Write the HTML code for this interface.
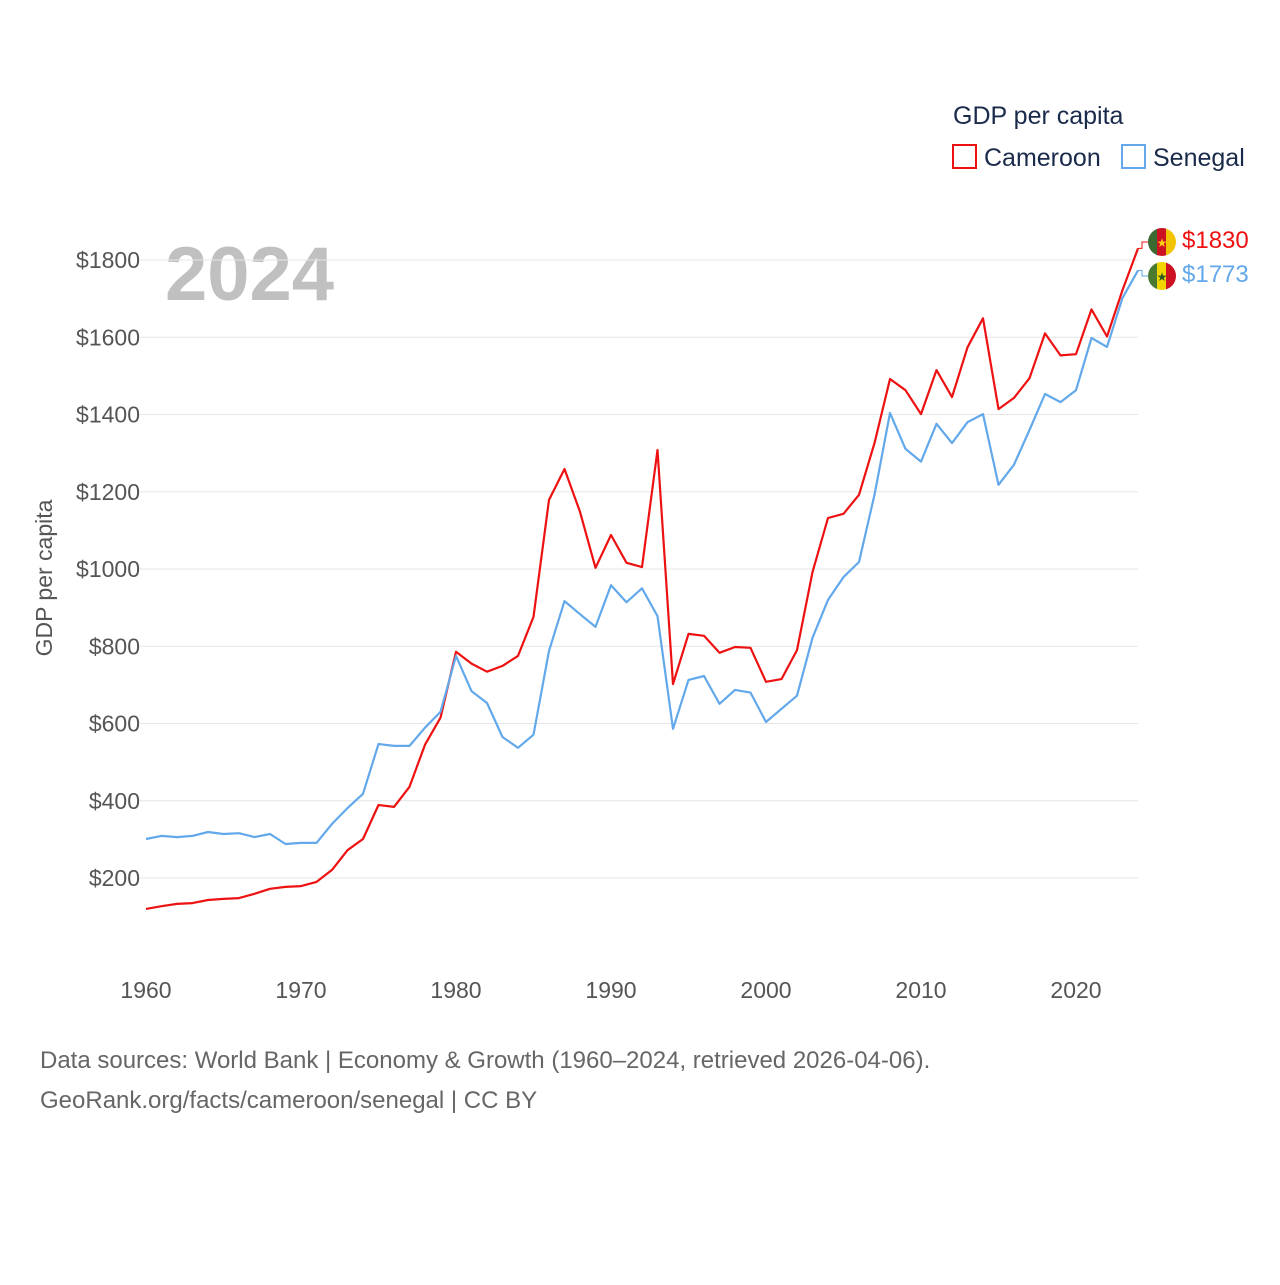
<!DOCTYPE html>
<html><head><meta charset="utf-8"><style>
body{margin:0;background:#fff;font-family:"Liberation Sans",sans-serif}
svg text{font-family:"Liberation Sans",sans-serif}
</style></head><body>
<svg id="chart" width="1280" height="1280" xmlns="http://www.w3.org/2000/svg">
<defs>
<clipPath id="c1"><circle cx="1162" cy="242" r="14"/></clipPath>
<clipPath id="c2"><circle cx="1162" cy="276" r="14"/></clipPath>
</defs>
<text x="953" y="124" font-size="25" fill="#1a2a4a">GDP per capita</text>
<g><rect x="953" y="145" width="23" height="23" fill="none" stroke="#ee1111" stroke-width="2"/><text x="984" y="166" font-size="25" fill="#1a2a4a">Cameroon</text></g>
<g><rect x="1122" y="145" width="23" height="23" fill="none" stroke="#62a8ea" stroke-width="2"/><text x="1153" y="166" font-size="25" fill="#1a2a4a">Senegal</text></g>
<text x="165" y="300" font-size="76" font-weight="bold" fill="#c0c0c0">2024</text>
<text transform="translate(52,578) rotate(-90)" text-anchor="middle" font-size="23" fill="#555">GDP per capita</text>
<g id="grid"></g><g id="series"></g>
<g>
<g clip-path="url(#c1)"><rect x="1148" y="228" width="10" height="28" fill="#3a6a30"/><rect x="1157" y="228" width="10" height="28" fill="#cc1122"/><rect x="1166" y="228" width="10" height="28" fill="#f2c400"/></g>
<text x="1162" y="247" text-anchor="middle" font-size="12" fill="#fcd116">★</text>
<text x="1182" y="248" font-size="24" fill="#ee1111">$1830</text></g>
<g>
<g clip-path="url(#c2)"><rect x="1148" y="262" width="10" height="28" fill="#4a7a30"/><rect x="1157" y="262" width="10" height="28" fill="#f2d400"/><rect x="1166" y="262" width="10" height="28" fill="#cc1122"/></g>
<text x="1162" y="281" text-anchor="middle" font-size="12" fill="#2a5a20">★</text>
<text x="1182" y="282" font-size="24" fill="#62a8ea">$1773</text></g>
<text x="40" y="1068" font-size="24" fill="#666">Data sources: World Bank | Economy &amp; Growth (1960–2024, retrieved 2026-04-06).</text>
<text x="40" y="1108" font-size="24" fill="#666">GeoRank.org/facts/cameroon/senegal | CC BY</text>
</svg>
<script>
const years=[];for(let y=1960;y<=2024;y++)years.push(y);
const cameroon=[120,127,133,135,143,146,148,159,172,177,179,190,221,272,301,389,384,436,545,615,786,755,734,749,775,876,1179,1259,1148,1003,1088,1016,1005,1308,702,832,827,783,798,796,708,715,790,992,1132,1143,1192,1326,1492,1463,1401,1515,1445,1574,1649,1414,1443,1494,1610,1553,1556,1672,1602,1722,1830];
const senegal=[301,309,306,309,319,314,316,306,314,288,291,291,340,381,418,547,542,542,589,630,775,684,653,565,537,571,788,917,883,850,958,914,950,878,586,713,723,651,687,680,604,638,672,822,920,979,1018,1192,1404,1311,1278,1376,1326,1380,1401,1218,1270,1360,1453,1432,1463,1598,1575,1702,1773];
const yTicks=[200,400,600,800,1000,1200,1400,1600,1800];
const xTicks=[1960,1970,1980,1990,2000,2010,2020];
const X=y=>146+(y-1960)*15.5, Y=v=>955.25-v*0.38625;
const NS="http://www.w3.org/2000/svg";
const grid=document.getElementById('grid'),ser=document.getElementById('series');
function mk(tag,at,p){const e=document.createElementNS(NS,tag);for(const k in at)e.setAttribute(k,at[k]);p.appendChild(e);return e;}
yTicks.forEach(v=>{
 const l=mk('line',{x1:140,x2:1138,y1:Y(v),y2:Y(v),stroke:'#e6e6e6','stroke-width':1},grid);
 
 
 const t=mk('text',{x:140,y:Y(v)+8,'text-anchor':'end','font-size':23,fill:'#555'},grid);t.textContent='$'+v;
 
 
});
xTicks.forEach(v=>{
 const t=mk('text',{x:X(v),y:998,'text-anchor':'middle','font-size':23,fill:'#555'},grid);t.textContent=v;
 
 
});
function line(data,color,name,ly){
 const p=mk('path',{d:data.map((v,i)=>(i?'L':'M')+X(years[i]).toFixed(1)+' '+Y(v).toFixed(1)).join(''),fill:'none',stroke:color,'stroke-width':2.2,'stroke-linejoin':'round'},ser);
 
 
 const last=data[data.length-1];
 const c=mk('path',{d:`M${X(2024)} ${Y(last)} L1142 ${Y(last)} L1142 ${ly} L1148 ${ly}`,fill:'none',stroke:color,'stroke-width':1},ser);
 
 
}
line(cameroon,'#ee1111','line-cameroon',242);
line(senegal,'#62a8ea','line-senegal',276);
</script>
</body></html>
